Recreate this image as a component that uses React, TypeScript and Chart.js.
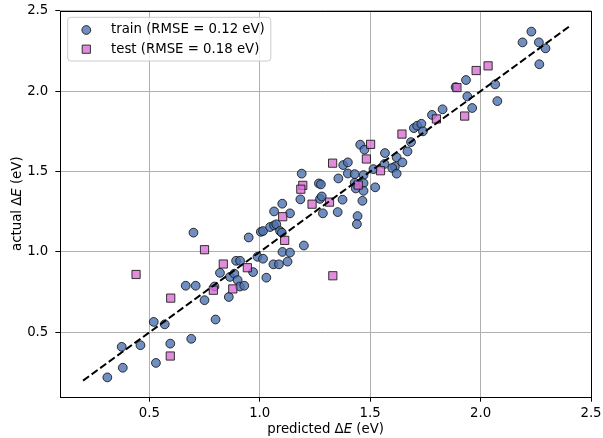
import React, { useEffect, useRef } from "react";
import { Chart, registerables } from "chart.js";

Chart.register(...registerables);

const trainX = [
  0.31, 0.38, 0.375, 0.46, 0.52, 0.57, 0.595, 0.53, 0.69, 0.70,
  0.665, 0.71, 0.75, 0.80, 0.795, 0.82, 0.86, 0.865, 0.885, 0.90,
  0.91, 0.93, 0.893, 0.911, 0.95, 0.97, 0.99, 1.015, 1.03, 1.005,
  1.015, 1.047, 1.065, 1.075, 1.062, 1.087, 1.103, 1.137, 1.126, 1.092,
  1.1, 1.065, 1.102, 1.137, 1.20, 1.19, 1.184, 1.268, 1.277, 1.273,
  1.281, 1.286, 1.353, 1.375, 1.356, 1.378, 1.399, 1.399, 1.43, 1.47,
  1.43, 1.47, 1.435, 1.455, 1.474, 1.567, 1.62, 1.646, 1.612, 1.60,
  1.62, 1.565, 1.515, 1.523, 1.47, 1.465, 1.443, 1.44, 1.669, 1.685,
  1.698, 1.713, 1.732, 1.739, 1.78, 1.828, 1.887, 1.934, 1.94, 1.962,
  2.066, 2.076, 2.19, 2.23, 2.264, 2.294, 2.266,
];
const trainY = [
  0.22, 0.28, 0.41, 0.42, 0.565, 0.55, 0.43, 0.31, 0.46, 1.12,
  0.79, 0.79, 0.70, 0.58, 0.785, 0.87, 0.72, 0.845, 0.865, 0.825,
  0.785, 0.79, 0.945, 0.945, 1.09, 0.875, 0.97, 0.958, 0.84, 1.125,
  1.13, 1.155, 1.165, 1.172, 0.923, 0.923, 1.0, 0.996, 0.94, 1.13,
  1.12, 1.252, 1.30, 1.24, 1.04, 1.487, 1.327, 1.426, 1.42, 1.33,
  1.345, 1.24, 1.248, 1.325, 1.457, 1.54, 1.557, 1.488, 1.484, 1.478,
  1.43, 1.428, 1.395, 1.667, 1.636, 1.615, 1.588, 1.557, 1.53, 1.522,
  1.487, 1.547, 1.515, 1.402, 1.38, 1.318, 1.223, 1.173, 1.625, 1.683,
  1.77, 1.785, 1.797, 1.75, 1.852, 1.887, 2.025, 2.069, 1.967, 1.895,
  2.042, 1.938, 2.303, 2.37, 2.303, 2.266, 2.167,
];

const testX = [
  0.44, 0.597, 0.595, 0.75, 0.79, 0.835, 0.878, 0.944, 1.104, 1.113,
  1.195, 1.186, 1.237, 1.316, 1.331, 1.33, 1.446, 1.483, 1.502, 1.547,
  1.644, 1.80, 1.893, 1.928, 1.98, 2.034,
];
const testY = [
  0.86, 0.713, 0.353, 1.014, 0.762, 0.925, 0.77, 0.902, 1.219, 1.072,
  1.414, 1.39, 1.297, 1.31, 0.852, 1.552, 1.416, 1.578, 1.669, 1.505,
  1.733, 1.827, 2.022, 1.845, 2.128, 2.157,
];

const refX = [0.2, 2.4];
const refY = [0.2, 2.4];

const xTicks = [0.5, 1.0, 1.5, 2.0, 2.5];
const yTicks = [0.5, 1.0, 1.5, 2.0, 2.5];

const trainLabel = "train (RMSE = 0.12 eV)";
const testLabel = "test (RMSE = 0.18 eV)";
const xTitleParts = ["predicted ", "Δ", "E", " (eV)"];
const yTitleParts = ["actual ", "Δ", "E", " (eV)"];

const FAMILY = '"DejaVu Sans", sans-serif';
const FSIZE = 13.3;
const TRAIN_FILL = "rgba(76,114,176,0.8)";
const TEST_FILL = "rgba(218,112,214,0.8)";
const EDGE = "rgba(20,20,20,0.85)";

function drawMixed(ctx: CanvasRenderingContext2D, parts: string[], cx: number, cy: number) {
  const fonts = parts.map((_, i) =>
    i === 2 ? `oblique ${FSIZE}px ${FAMILY}` : `${FSIZE}px ${FAMILY}`
  );
  const widths = parts.map((p, i) => {
    ctx.font = fonts[i];
    return ctx.measureText(p).width;
  });
  const total = widths.reduce((a, b) => a + b, 0);
  let x = cx - total / 2;
  ctx.textAlign = "left";
  ctx.textBaseline = "middle";
  ctx.fillStyle = "#000";
  parts.forEach((p, i) => {
    ctx.font = fonts[i];
    ctx.fillText(p, x, cy);
    x += widths[i];
  });
}

const decorPlugin = {
  id: "decor",
  afterDraw(chart: any) {
    const ctx: CanvasRenderingContext2D = chart.ctx;
    const a = chart.chartArea;
    ctx.save();
    // frame
    ctx.strokeStyle = "#000";
    ctx.lineWidth = 1;
    ctx.strokeRect(Math.round(a.left) + 0.5, Math.round(a.top) + 0.5,
      Math.round(a.right - a.left), Math.round(a.bottom - a.top));

    // axis titles
    drawMixed(ctx, xTitleParts, (a.left + a.right) / 2, 430);
    ctx.save();
    ctx.translate(17.5, (a.top + a.bottom) / 2);
    ctx.rotate(-Math.PI / 2);
    drawMixed(ctx, yTitleParts, 0, 0);
    ctx.restore();

    // legend
    const bx = a.left + 7.4;
    const by = a.top + 6.6;
    ctx.font = `${FSIZE}px ${FAMILY}`;
    const tw = Math.max(ctx.measureText(trainLabel).width, ctx.measureText(testLabel).width);
    const bw = 43.3 + tw + 6;
    const bh = 43.7;
    const r = 3;
    ctx.beginPath();
    ctx.moveTo(bx + r, by);
    ctx.lineTo(bx + bw - r, by);
    ctx.quadraticCurveTo(bx + bw, by, bx + bw, by + r);
    ctx.lineTo(bx + bw, by + bh - r);
    ctx.quadraticCurveTo(bx + bw, by + bh, bx + bw - r, by + bh);
    ctx.lineTo(bx + r, by + bh);
    ctx.quadraticCurveTo(bx, by + bh, bx, by + bh - r);
    ctx.lineTo(bx, by + r);
    ctx.quadraticCurveTo(bx, by, bx + r, by);
    ctx.closePath();
    ctx.fillStyle = "rgba(255,255,255,0.8)";
    ctx.fill();
    ctx.strokeStyle = "#cccccc";
    ctx.lineWidth = 1;
    ctx.stroke();

    const mx = bx + 18.6;
    const r1 = by + 12.7;
    const r2 = by + 31.9;
    ctx.beginPath();
    ctx.arc(mx, r1, 4.4, 0, Math.PI * 2);
    ctx.fillStyle = TRAIN_FILL;
    ctx.fill();
    ctx.strokeStyle = EDGE;
    ctx.stroke();
    const s = 8.2;
    ctx.beginPath();
    ctx.rect(mx - s / 2, r2 - s / 2, s, s);
    ctx.fillStyle = TEST_FILL;
    ctx.fill();
    ctx.strokeStyle = EDGE;
    ctx.stroke();

    ctx.fillStyle = "#000";
    ctx.textAlign = "left";
    ctx.textBaseline = "middle";
    ctx.font = `${FSIZE}px ${FAMILY}`;
    ctx.fillText(trainLabel, bx + 43.3, r1);
    ctx.fillText(testLabel, bx + 43.3, r2);
    ctx.restore();
  },
};

export default function App() {
  const ref = useRef<HTMLCanvasElement | null>(null);

  useEffect(() => {
    document.body.style.margin = "0";
    if (!ref.current) return;
    const tickFont = { family: FAMILY, size: FSIZE };
    const chart = new Chart(ref.current, {
      type: "scatter",
      data: {
        datasets: [
          {
            type: "line",
            label: "y = x",
            data: refX.map((x, i) => ({ x, y: refY[i] })),
            borderColor: "#000",
            borderWidth: 2,
            borderDash: [7.4, 3.2],
            pointRadius: 0,
            fill: false,
          } as any,
          {
            label: testLabel,
            data: testX.map((x, i) => ({ x, y: testY[i] })),
            pointStyle: "rect",
            pointRadius: 5.8,
            backgroundColor: TEST_FILL,
            borderColor: EDGE,
            borderWidth: 1,
          },
          {
            label: trainLabel,
            data: trainX.map((x, i) => ({ x, y: trainY[i] })),
            pointStyle: "circle",
            pointRadius: 4.4,
            backgroundColor: TRAIN_FILL,
            borderColor: EDGE,
            borderWidth: 1,
          },
        ],
      },
      options: {
        animation: false,
        responsive: true,
        maintainAspectRatio: false,
        layout: { padding: { top: 10.7, right: 12, left: 0, bottom: 0 } },
        plugins: {
          legend: { display: false },
          tooltip: { enabled: false },
        },
        scales: {
          x: {
            type: "linear",
            min: 0.097,
            max: 2.5,
            afterBuildTicks: (s: any) => {
              s.ticks = xTicks.map((v) => ({ value: v }));
            },
            afterFit: (s: any) => {
              s.height = 41.3;
              s.paddingLeft = 0;
              s.paddingRight = 0;
            },
            ticks: {
              font: tickFont,
              color: "#000",
              padding: 4,
              maxRotation: 0,
              autoSkip: false,
              callback: (v: any) => Number(v).toFixed(1),
            },
            grid: { color: "#b0b0b0", lineWidth: 1, tickColor: "#000", tickLength: 5 },
            border: { display: false },
          },
          y: {
            type: "linear",
            min: 0.1,
            max: 2.5,
            afterBuildTicks: (s: any) => {
              s.ticks = yTicks.map((v) => ({ value: v }));
            },
            afterFit: (s: any) => {
              s.width = 60.3;
              s.paddingTop = 0;
              s.paddingBottom = 0;
            },
            ticks: {
              font: tickFont,
              color: "#000",
              padding: 7,
              autoSkip: false,
              callback: (v: any) => Number(v).toFixed(1),
            },
            grid: { color: "#b0b0b0", lineWidth: 1, tickColor: "#000", tickLength: 5 },
            border: { display: false },
          },
        },
      } as any,
      plugins: [decorPlugin],
    });
    return () => chart.destroy();
  }, []);

  return (
    <div style={{ width: 603, height: 438, position: "relative", background: "#fff" }}>
      <canvas ref={ref} />
    </div>
  );
}
